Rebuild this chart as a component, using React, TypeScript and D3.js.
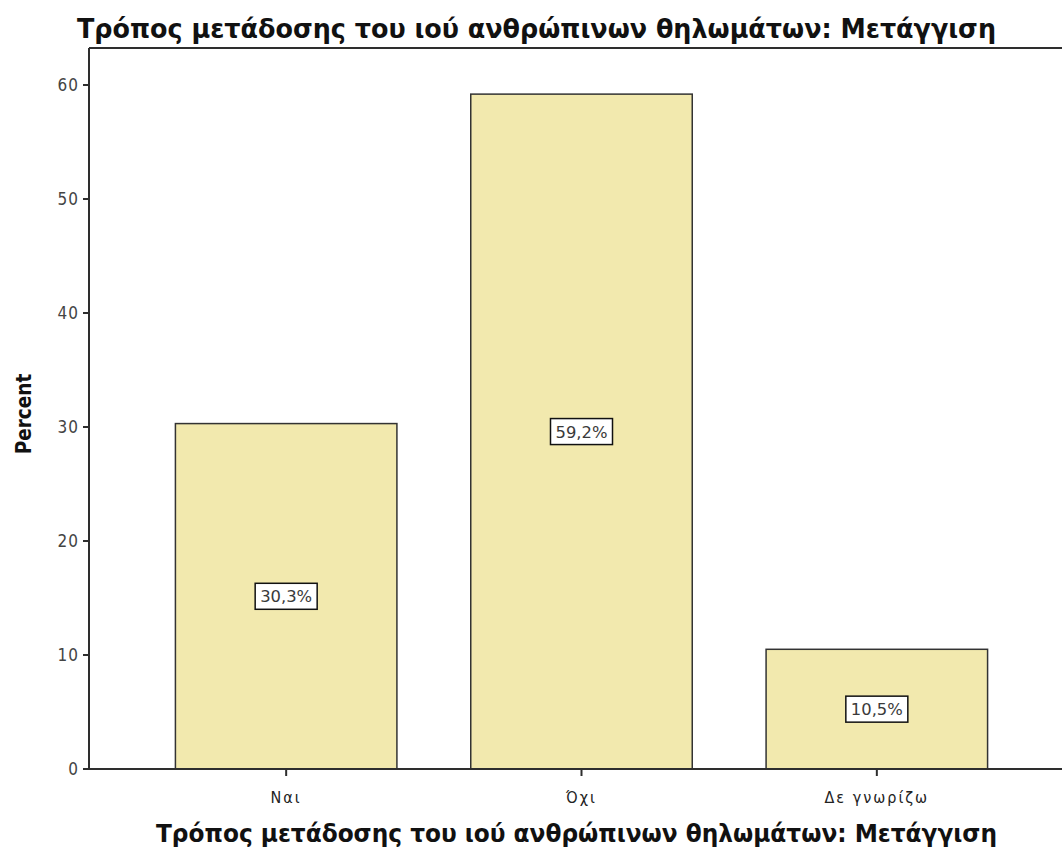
import React from "react";
import * as d3 from "d3";

const categories: string[] = ["Ναι", "Όχι", "Δε γνωρίζω"];
const percents: number[] = [30.3, 59.2, 10.5];
const percentLabels: string[] = ["30,3%", "59,2%", "10,5%"];
const yTicks: number[] = [0, 10, 20, 30, 40, 50, 60];
const titleText = "Τρόπος μετάδοσης του ιού ανθρώπινων θηλωμάτων: Μετάγγιση";
const xAxisTitle = "Τρόπος μετάδοσης του ιού ανθρώπινων θηλωμάτων: Μετάγγιση";
const yAxisTitle = "Percent";

const W = 1062;
const H = 850;
const plotLeft = 89;
const plotTop = 48;
const plotBottom = 769;
const plotRight = 1062;

export default function App() {
  const x = d3
    .scaleBand<string>()
    .domain(categories)
    .range([138.5, 1024.5])
    .paddingInner(0.25)
    .paddingOuter(0.125);
  const y = d3.scaleLinear().domain([0, 60]).range([plotBottom, 85]);

  const condensed = "'DejaVu Sans Condensed', 'DejaVu Sans', sans-serif";
  const axisColor = "#2e2e2e";
  const barFill = "#f2e9ae";

  return (
    <svg
      width={W}
      height={H}
      style={{ position: "absolute", left: 0, top: 0, display: "block", background: "#fff" }}
    >
      <text
        x={77}
        y={38}
        fontFamily={condensed}
        fontWeight="bold"
        fontSize={26}
        textLength={919}
        lengthAdjust="spacingAndGlyphs"
        fill="#111"
      >
        {titleText}
      </text>

      {categories.map((c, i) => {
        const x0 = x(c)!;
        const bw = x.bandwidth();
        const yTop = y(percents[i]);
        const cx = x0 + bw / 2;
        const cy = y(percents[i] / 2);
        return (
          <g key={c}>
            <rect
              x={x0}
              y={yTop}
              width={bw}
              height={plotBottom - yTop}
              fill={barFill}
              stroke="#333"
              strokeWidth={1.5}
            />
            <rect
              x={cx - 31}
              y={cy - 13}
              width={62}
              height={26}
              fill="#fff"
              stroke="#111"
              strokeWidth={1.5}
            />
            <text
              x={cx}
              y={cy + 6}
              textAnchor="middle"
              fontFamily={condensed}
              fontSize={16.5}
              textLength={52}
              lengthAdjust="spacingAndGlyphs"
              fill="#3a3a3a"
            >
              {percentLabels[i]}
            </text>
          </g>
        );
      })}

      {/* frame */}
      <line x1={plotLeft} x2={plotRight} y1={plotTop} y2={plotTop} stroke={axisColor} strokeWidth={2} />
      <line x1={plotLeft} x2={plotLeft} y1={plotTop} y2={plotBottom} stroke={axisColor} strokeWidth={2} />
      <line x1={plotLeft} x2={plotRight} y1={plotBottom} y2={plotBottom} stroke={axisColor} strokeWidth={2} />

      {yTicks.map((t) => (
        <g key={t}>
          <line x1={83} x2={plotLeft} y1={y(t)} y2={y(t)} stroke={axisColor} strokeWidth={2} />
          <text
            x={79}
            y={y(t) + 6}
            textAnchor="end"
            fontFamily={condensed}
            fontSize={17}
            letterSpacing={1}
            fill="#444"
          >
            {t}
          </text>
        </g>
      ))}

      {categories.map((c) => {
        const cx = x(c)! + x.bandwidth() / 2;
        return (
          <g key={"t" + c}>
            <line x1={cx} x2={cx} y1={plotBottom} y2={plotBottom + 7} stroke={axisColor} strokeWidth={2} />
            <text
              x={cx}
              y={803}
              textAnchor="middle"
              fontFamily={condensed}
              fontSize={16}
              letterSpacing={2}
              fill="#222"
            >
              {c}
            </text>
          </g>
        );
      })}

      <text
        x={156}
        y={842}
        fontFamily={condensed}
        fontWeight="bold"
        fontSize={24}
        textLength={841}
        lengthAdjust="spacingAndGlyphs"
        fill="#111"
      >
        {xAxisTitle}
      </text>

      <text
        transform={`translate(31, 414) rotate(-90)`}
        textAnchor="middle"
        fontFamily={condensed}
        fontWeight="bold"
        fontSize={20.5}
        fill="#111"
      >
        {yAxisTitle}
      </text>
    </svg>
  );
}
